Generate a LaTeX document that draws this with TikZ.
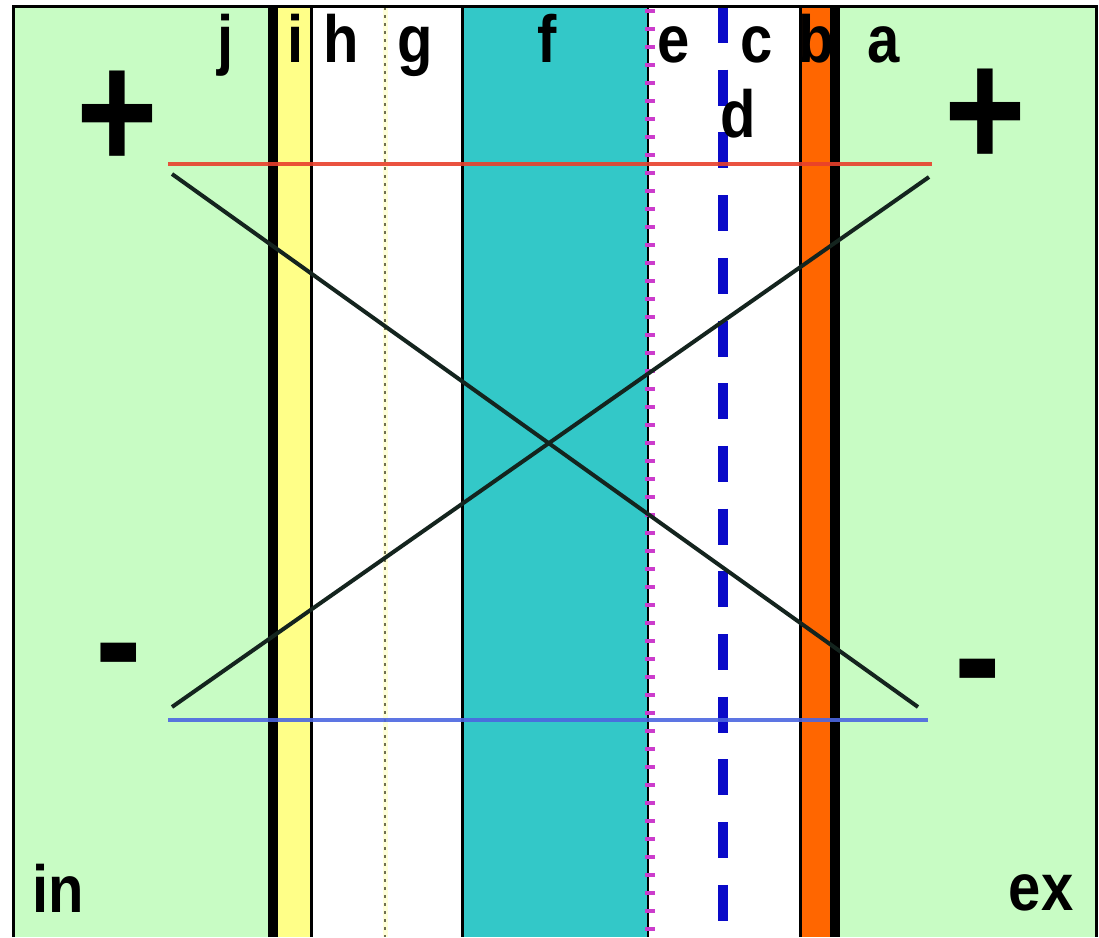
\documentclass[tikz,border=0pt]{standalone}
\usepackage{fontspec}
\setmainfont{Liberation Sans}
\usepackage{graphicx}
\usetikzlibrary{calc}
\definecolor{bathgreen}{HTML}{C8FCC4}
\definecolor{lipyellow}{HTML}{FFFF88}
\definecolor{coreteal}{HTML}{33C8C8}
\definecolor{wallorange}{HTML}{FF6600}
\definecolor{topred}{HTML}{E8402C}
\definecolor{lowblue}{HTML}{4C66E0}
\definecolor{dashblue}{HTML}{0A0AC8}
\definecolor{dotmag}{HTML}{CC3CCC}
\definecolor{dotolive}{HTML}{707050}
\definecolor{paleyel}{HTML}{FFFFD8}
\definecolor{crossln}{HTML}{14241E}
\newcommand{\tallt}[2][1.15]{\scalebox{1}[#1]{#2}}
\tikzset{
  lbl/.style={font=\bfseries\fontsize{58}{60}\selectfont,anchor=base,inner sep=0pt},
  sgn/.style={font=\bfseries\fontsize{140}{140}\selectfont,anchor=base,inner sep=0pt},
  wall/.style={line width=10pt,black},
  edgeln/.style={line width=3pt,black},
  dashln/.style={line width=10pt,dashblue,dash pattern=on 36pt off 26.7pt},
  levelln/.style={line width=4pt},
  crossing/.style={line width=4pt,crossln}
}

\begin{document}
\begin{tikzpicture}[x=1pt,y=-1pt]
\useasboundingbox (0,0) rectangle (1099,937);
\fill[white] (0,0) rectangle (1099,937);
% bands
\fill[bathgreen] (14,7) rectangle (268,937);
\fill[lipyellow] (278,7) rectangle (310,937);
\fill[coreteal] (462,7) rectangle (648,937);
\fill[wallorange] (800,7) rectangle (832,937);
\fill[bathgreen] (840,7) rectangle (1095,937);
% layer borders
\draw[wall] (273,7) -- (273,937);
\draw[edgeln] (311,7) -- (311,937);
\draw[line width=5pt,paleyel] (385,7) -- (385,937);
\draw[line width=2.5pt,dotolive,dash pattern=on 3pt off 5pt] (385,7) -- (385,937);
\draw[edgeln] (462,7) -- (462,937);
\draw[line width=2.5pt,black] (648,7) -- (648,937);
\draw[line width=10pt,dotmag,dash pattern=on 4pt off 14pt] (650,9) -- (650,937);
\draw[dashln] (723,7) -- (723,937);
\draw[edgeln] (800,7) -- (800,937);
\draw[wall] (835,7) -- (835,937);
% frame
\draw[line width=3pt] (13,937) -- (13,6) -- (1096,6) -- (1096,937);
% levels
\coordinate (redL) at (168,164);
\coordinate (redR) at (932,164);
\coordinate (bluL) at (168,720);
\coordinate (bluR) at (928,720);
\draw[levelln,topred,opacity=.9] (redL) -- (redR);
\draw[levelln,lowblue,opacity=.9] (bluL) -- (bluR);
% cross
\coordinate (dnA) at (172,174);
\coordinate (dnB) at (918,707);
\coordinate (upA) at (172,707);
\coordinate (upB) at (929,177);
\draw[crossing] (dnA) -- (dnB);
\draw[crossing] (upA) -- (upB);
% labels
\node[lbl] (lj) at (226,62) {\tallt{j}};
\node[lbl] (li) at (296,62) {\tallt{i}};
\node[lbl] (lh) at (341,62) {\tallt{h}};
\node[lbl] (lg) at (415,62) {\tallt{g}};
\node[lbl] (lf) at (547,62) {\tallt{f}};
\node[lbl] (le) at (674,62) {\tallt{e}};
\node[lbl] (lc) at (757,62) {\tallt{c}};
\node[lbl] (lb) at (816,62) {\tallt{b}};
\node[lbl] (la) at (884,62) {\tallt{a}};
\node[lbl] (ld) at (738,137) {\tallt{d}};
\node[lbl] (lin) at (58,912) {\tallt{in}};
\node[lbl] (lex) at (1041,910) {\tallt{ex}};
\node[sgn] (plusL) at (117,169) {\tallt[1.2]{+}};
\node[sgn] (plusR) at (985,167) {\tallt[1.2]{+}};
\node[sgn] (minL) at (119,694) {\tallt{-}};
\node[sgn] (minR) at (978,710) {\tallt{-}};
\end{tikzpicture}
\end{document}
